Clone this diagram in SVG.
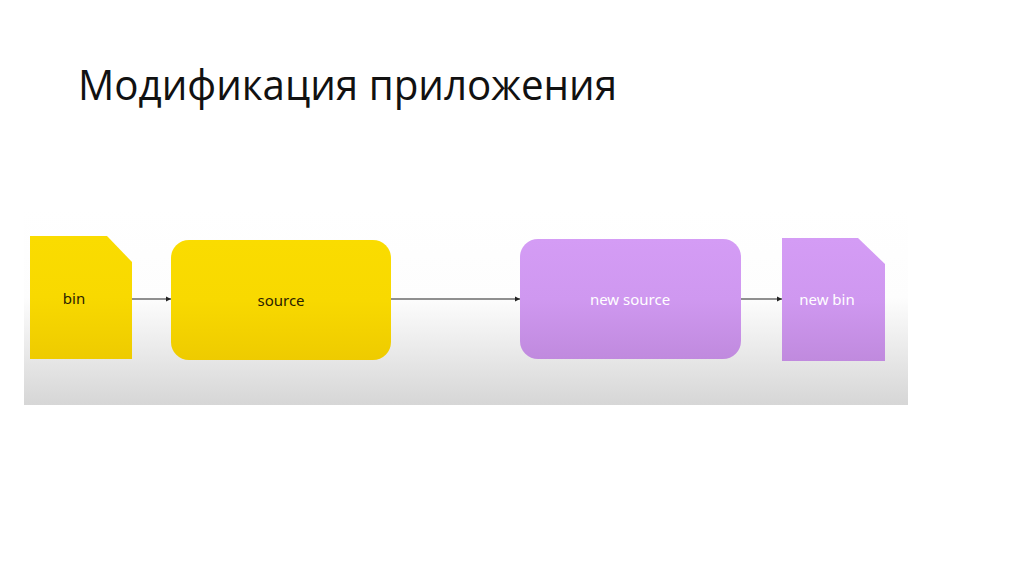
<svg xmlns="http://www.w3.org/2000/svg" width="1024" height="574" viewBox="0 0 1024 574">
<style>
.title{font-family:"Open Sans","Noto Sans","DejaVu Sans",sans-serif;font-size:42px;font-weight:400;fill:#111}
.lbl{font-family:"Noto Sans","Open Sans",sans-serif;font-size:15px;font-weight:400;text-anchor:middle;dominant-baseline:central}
.dark{fill:#2a2200}
.light{fill:#ffffff}
.conn{stroke:#222;stroke-width:1.2;fill:none;marker-end:url(#ah)}
</style>
<defs>
<linearGradient id="bg" x1="0" y1="0" x2="0" y2="1">
<stop offset="0" stop-color="#ffffff"/>
<stop offset="0.45" stop-color="#fdfdfd"/>
<stop offset="1" stop-color="#d6d6d6"/>
</linearGradient>
<linearGradient id="yel" x1="0" y1="0" x2="0" y2="1">
<stop offset="0" stop-color="#fadc00"/>
<stop offset="0.5" stop-color="#f8d900"/>
<stop offset="1" stop-color="#eecb00"/>
</linearGradient>
<linearGradient id="pur" x1="0" y1="0" x2="0" y2="1">
<stop offset="0" stop-color="#d49cf5"/>
<stop offset="0.5" stop-color="#cf98f0"/>
<stop offset="1" stop-color="#c08ade"/>
</linearGradient>
<marker id="ah" markerWidth="6" markerHeight="6" refX="5" refY="3" orient="auto" markerUnits="userSpaceOnUse">
<path d="M0,0.5 L5,3 L0,5.5 Z" fill="#222"/>
</marker>
</defs>
<rect width="1024" height="574" fill="#ffffff"/>
<rect x="24" y="210" width="884" height="195" fill="url(#bg)"/>
<text class="title" x="78" y="100" textLength="539" lengthAdjust="spacingAndGlyphs">Модификация приложения</text>
<g id="connectors">
<line class="conn" x1="132" y1="299" x2="171" y2="299"/>
<line class="conn" x1="391" y1="299" x2="520" y2="299"/>
<line class="conn" x1="741" y1="299" x2="782" y2="299"/>
</g>
<g id="bin">
<path d="M30,236 L107,236 L132,262 L132,359 L30,359 Z" fill="url(#yel)"/>
<text class="lbl dark" x="74" y="298">bin</text>
</g>
<g id="source">
<rect x="171" y="240" width="220" height="120" rx="18" fill="url(#yel)"/>
<text class="lbl dark" x="281" y="300">source</text>
</g>
<g id="new-source">
<rect x="520" y="239" width="221" height="120" rx="18" fill="url(#pur)"/>
<text class="lbl light" x="630" y="299">new source</text>
</g>
<g id="new-bin">
<path d="M782,238 L858,238 L885,264 L885,361 L782,361 Z" fill="url(#pur)"/>
<text class="lbl light" x="827" y="299">new bin</text>
</g>
</svg>
